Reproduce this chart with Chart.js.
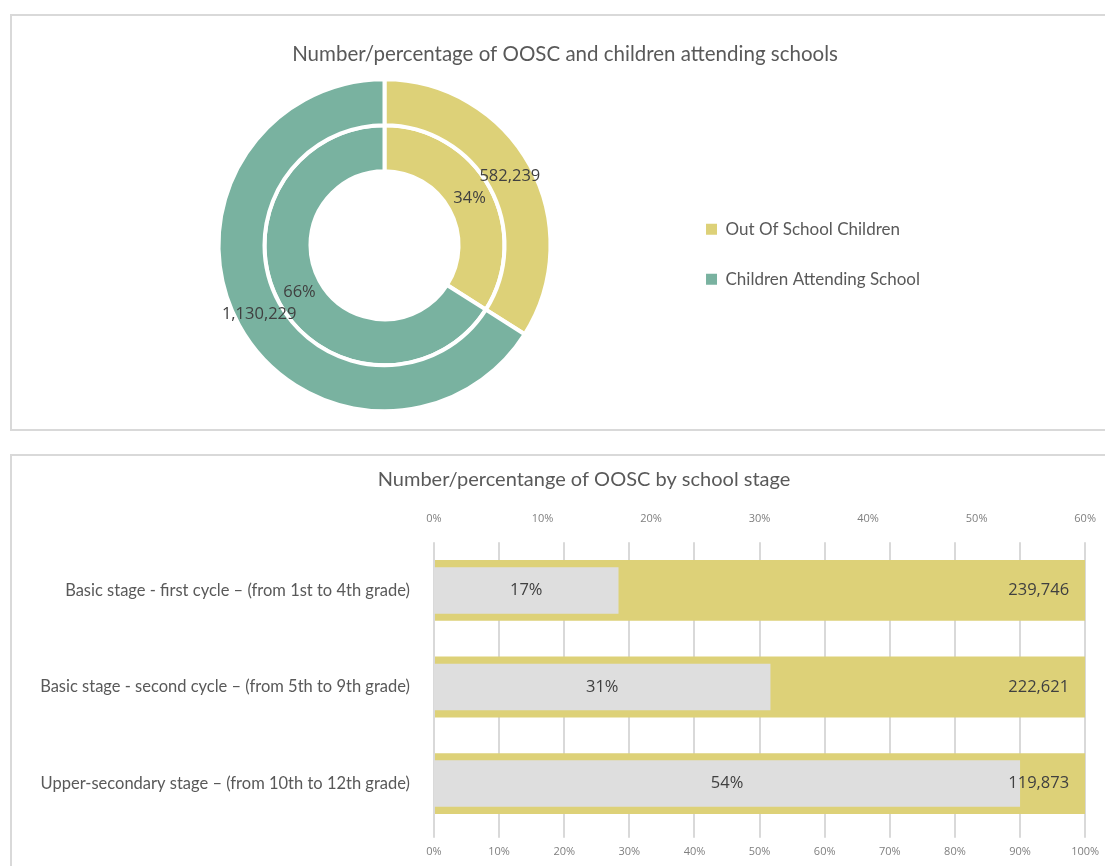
<!DOCTYPE html>
<html lang="en">

<head>
    <meta charset="UTF-8">
    <title>Out of school children</title>
    <script src="https://cdn.jsdelivr.net/npm/chart.js@4.4.1/dist/chart.umd.min.js"></script>
    <style>
        body {
            margin: 0;
            width: 1105px;
            height: 866px;
            overflow: hidden;
            position: relative;
            background: #fff;
            font-family: Lato, sans-serif;
        }

        .panel {
            position: absolute;
            left: 10px;
            width: 1130px;
            border: 2px solid #d9d9d9;
            box-sizing: border-box;
        }

        #topPanel { top: 14px; height: 417px; }
        #bottomPanel { top: 454px; height: 440px; }

        .chart-box {
            position: absolute;
            left: 12px;
            width: 1093px;
        }

        #donutBox { top: 16px; height: 411px; }
        #stageBox { top: 456px; height: 410px; width: 1101px; }
    </style>
</head>

<body>
    <div class="panel" id="topPanel"></div>
    <div class="panel" id="bottomPanel"></div>
    <div class="chart-box" id="donutBox"><canvas id="donutChart"></canvas></div>
    <div class="chart-box" id="stageBox"><canvas id="stageChart"></canvas></div>

    <script>
        // top chart: OOSC vs attending
        const donutLabels = ['Out Of School Children', 'Children Attending School'];
        const donutCounts = [582239, 1130229];
        const donutShares = [34, 66];
        const donutColors = ['#ddd178', '#79b2a0'];

        // bottom chart: by school stage
        const stageLabels = [
            'Basic stage - first cycle \u2013 (from 1st to 4th grade)',
            'Basic stage - second cycle \u2013 (from 5th to 9th grade)',
            'Upper-secondary stage \u2013 (from 10th to 12th grade)'
        ];
        const stageShares = [17, 31, 54];
        const stageOosc = [239746, 222621, 119873];
        const stageTotal = [100, 100, 100];
        const shareAxisMax = 60;
        const totalAxisMax = 100;

        const textColor = '#595959';
        const labelColor = '#404040';
        const fmt = v => v.toLocaleString('en-US');

        // draws the value texts kept on each dataset (valueText / valueAlign)
        const valueLabels = {
            id: 'valueLabels',
            afterDatasetsDraw(chart) {
                const ctx = chart.ctx;
                ctx.save();
                ctx.font = '16.5px "Open Sans"';
                ctx.fillStyle = labelColor;
                ctx.textBaseline = 'middle';
                chart.data.datasets.forEach((ds, i) => {
                    if (!ds.valueText) return;
                    chart.getDatasetMeta(i).data.forEach((el, j) => {
                        const p = el.getCenterPoint();
                        if (ds.valueAlign === 'end') {
                            ctx.textAlign = 'right';
                            ctx.fillText(ds.valueText[j], el.x - 16, p.y);
                        } else {
                            ctx.textAlign = 'center';
                            ctx.fillText(ds.valueText[j], p.x, p.y);
                        }
                    });
                });
                ctx.restore();
            }
        };

        // small shifts: title centred on the whole panel, legend a bit low
        const nudge = {
            id: 'nudge',
            afterLayout(chart, args, opts) {
                const t = chart.titleBlock;
                const l = chart.legend;
                if (opts.titleX && t) { t.left += opts.titleX; t.right += opts.titleX; }
                if (opts.legendY && l) { l.top += opts.legendY; l.bottom += opts.legendY; }
            }
        };

        new Chart(document.getElementById('donutChart'), {
            type: 'doughnut',
            data: {
                labels: donutLabels,
                datasets: [{
                    data: donutCounts,
                    backgroundColor: donutColors,
                    borderColor: '#fff',
                    borderWidth: 4,
                    valueText: donutCounts.map(fmt)
                }, {
                    data: donutShares,
                    backgroundColor: donutColors,
                    borderColor: '#fff',
                    borderWidth: 4,
                    valueText: donutShares.map(v => v + '%')
                }]
            },
            options: {
                responsive: true,
                maintainAspectRatio: false,
                animation: false,
                radius: 166,
                cutout: '44.6%',
                layout: { padding: { left: 84, right: 175, bottom: 13 } },
                plugins: {
                    title: {
                        display: true,
                        text: 'Number/percentage of OOSC and children attending schools',
                        color: textColor,
                        font: { family: 'Lato', size: 20.5, weight: 'normal' },
                        padding: { top: 26, bottom: 10 }
                    },
                    legend: {
                        position: 'right',
                        fullSize: false,
                        labels: {
                            boxWidth: 11,
                            boxHeight: 11,
                            padding: 33,
                            color: textColor,
                            font: { family: 'Lato', size: 17 },
                            generateLabels(chart) {
                                return Chart.overrides.doughnut.plugins.legend.labels
                                    .generateLabels(chart)
                                    .map(item => ({ ...item, lineWidth: 0 }));
                            }
                        }
                    },
                    tooltip: { enabled: false },
                    nudge: { titleX: 52, legendY: 9 }
                }
            },
            plugins: [valueLabels, nudge]
        });

        const tickFont = { family: 'Open Sans', size: 11 };

        new Chart(document.getElementById('stageChart'), {
            type: 'bar',
            data: {
                labels: stageLabels,
                datasets: [{
                    data: stageShares,
                    xAxisID: 'xShare',
                    backgroundColor: '#dedede',
                    barPercentage: 0.48,
                    categoryPercentage: 1,
                    grouped: false,
                    order: 1,
                    valueText: stageShares.map(v => v + '%'),
                    valueAlign: 'center'
                }, {
                    data: stageTotal,
                    xAxisID: 'x',
                    backgroundColor: '#ddd178',
                    barPercentage: 0.63,
                    categoryPercentage: 1,
                    grouped: false,
                    order: 2,
                    valueText: stageOosc.map(fmt),
                    valueAlign: 'end'
                }]
            },
            options: {
                indexAxis: 'y',
                responsive: true,
                maintainAspectRatio: false,
                animation: false,
                layout: { autoPadding: false, padding: { right: 21, bottom: 1 } },
                scales: {
                    x: {
                        position: 'bottom',
                        min: 0,
                        max: totalAxisMax,
                        ticks: { stepSize: 10, callback: v => v + '%', color: '#7f7f7f', font: tickFont, padding: 7 },
                        grid: { color: '#d9d9d9', lineWidth: 2, tickLength: 6 },
                        border: { display: false }
                    },
                    xShare: {
                        position: 'top',
                        min: 0,
                        max: shareAxisMax,
                        ticks: { stepSize: 10, callback: v => v + '%', color: '#7f7f7f', font: tickFont, padding: 17 },
                        grid: { display: false, drawTicks: false },
                        border: { display: false }
                    },
                    y: {
                        grid: { display: false, drawTicks: false },
                        border: { display: false },
                        ticks: { color: textColor, font: { family: 'Lato', size: 16.5 }, padding: 24 },
                        afterFit(scale) { scale.width = 422; }
                    }
                },
                plugins: {
                    legend: { display: false },
                    title: {
                        display: true,
                        text: 'Number/percentange of OOSC by school stage',
                        color: textColor,
                        font: { family: 'Lato', size: 20, weight: 'normal' },
                        padding: { top: 12, bottom: 3 }
                    },
                    tooltip: { enabled: false },
                    nudge: { titleX: 32 }
                }
            },
            plugins: [valueLabels, nudge]
        });
    </script>
</body>

</html>
